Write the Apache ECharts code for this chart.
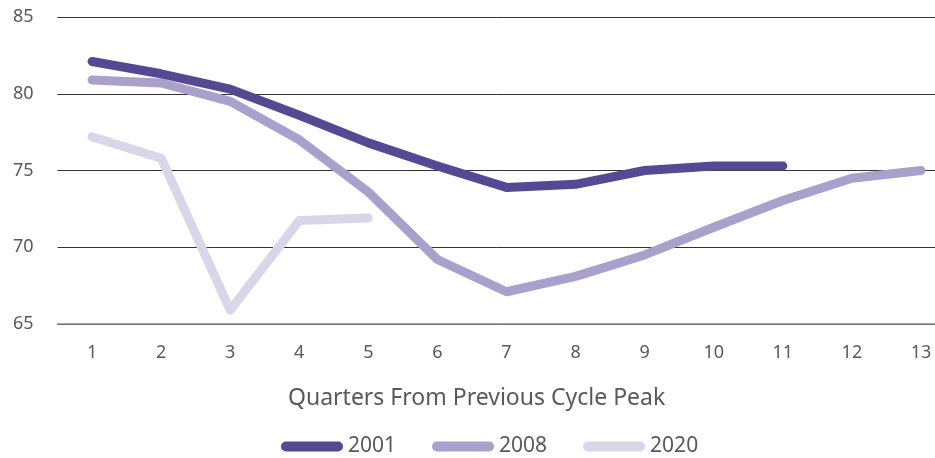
<!DOCTYPE html>
<html>
<head>
<meta charset="utf-8">
<script src="https://cdn.jsdelivr.net/npm/echarts@6/dist/echarts.min.js"></script>
<style>
    html, body { margin: 0; padding: 0; background: #fff; }
    #chart { width: 935px; height: 458px; }
</style>
</head>
<body>
<div id="chart"></div>
<script>
// 季度（距上一周期峰值）
var quarters = ['1', '2', '3', '4', '5', '6', '7', '8', '9', '10', '11', '12', '13'];
var s2001 = [82.1, 81.3, 80.3, 78.6, 76.8, 75.3, 73.9, 74.1, 75.0, 75.3, 75.3, null, null];
var s2008 = [80.9, 80.7, 79.5, 77.0, 73.6, 69.2, 67.1, 68.1, 69.5, 71.3, 73.05, 74.5, 75.0];
var s2020 = [77.2, 75.8, 65.9, 71.75, 71.9, null, null, null, null, null, null, null, null];
var seriesNames = ['2001', '2008', '2020'];
var colors = ['#554994', '#a9a1cb', '#d9d6e9'];

var myChart = echarts.init(document.getElementById('chart'));
var fontName = 'Noto Sans';

function makeLine(name, data, color) {
    return {
        name: name,
        type: 'line',
        data: data,
        symbol: 'none',
        lineStyle: { width: 9, color: color, cap: 'round', join: 'round' },
        itemStyle: { color: color },
        emphasis: { disabled: true }
    };
}

var option = {
    animation: false,
    color: colors,
    textStyle: { fontFamily: fontName },
    grid: { left: 57.5, top: 17, width: 898, height: 307, containLabel: false, outerBoundsMode: 'none' },
    title: {
        text: 'Quarters From Previous Cycle Peak',
        left: 283,
        top: 382,
        textStyle: { fontFamily: fontName, fontSize: 23, fontWeight: 'normal', color: '#595959' }
    },
    legend: {
        data: seriesNames,
        left: 276,
        top: 431,
        itemWidth: 62,
        itemHeight: 10,
        itemGap: 36,
        icon: 'path://M5,0 H57 A5,5 0 0 1 57,10 H5 A5,5 0 0 1 5,0 Z',
        textStyle: { fontFamily: fontName, fontSize: 21, color: '#595959' }
    },
    xAxis: {
        type: 'category',
        data: quarters,
        boundaryGap: true,
        axisTick: { show: false },
        axisLine: { show: true, lineStyle: { color: '#8c8c8c', width: 1.5 } },
        axisLabel: { fontFamily: fontName, fontSize: 18, color: '#595959', margin: 20 }
    },
    yAxis: {
        type: 'value',
        min: 65,
        max: 85,
        interval: 5,
        axisLine: { show: false },
        axisTick: { show: false },
        splitLine: { lineStyle: { color: '#333333', width: 1 } },
        axisLabel: { fontFamily: fontName, fontSize: 18, color: '#595959', margin: 24 }
    },
    series: [
        makeLine(seriesNames[2], s2020, colors[2]),
        makeLine(seriesNames[1], s2008, colors[1]),
        makeLine(seriesNames[0], s2001, colors[0])
    ]
};
myChart.setOption(option);
</script>
</body>
</html>
